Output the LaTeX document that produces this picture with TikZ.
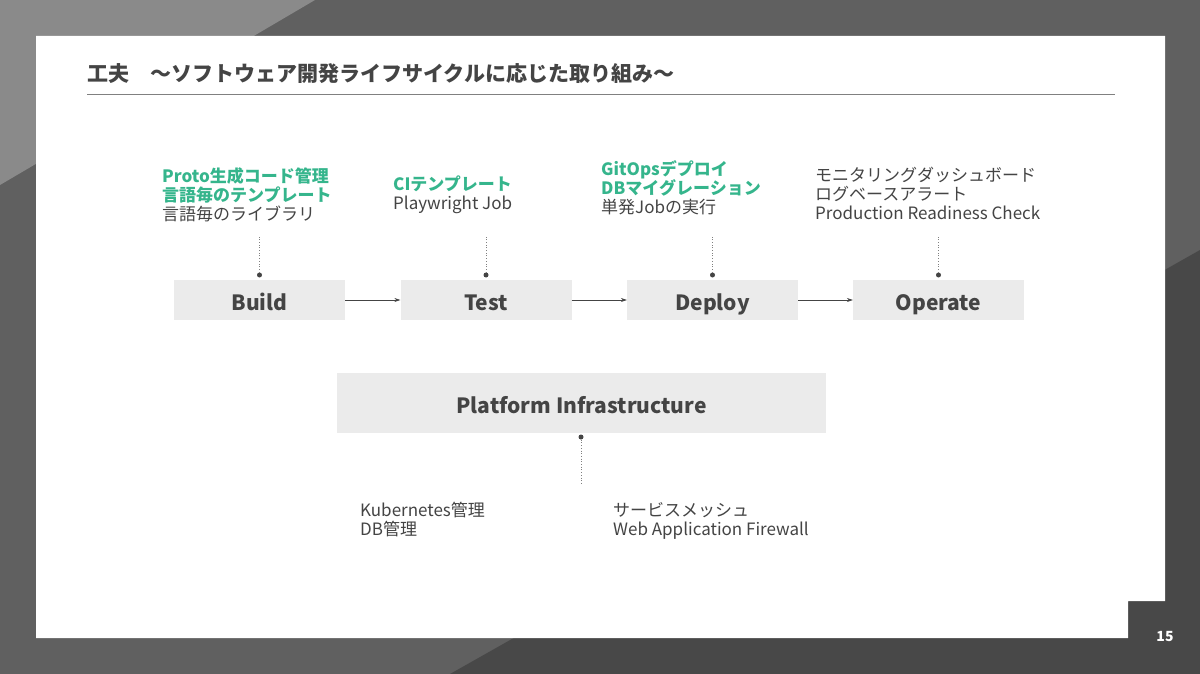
\documentclass[tikz,border=0pt]{standalone}
\usepackage{fontspec}
\setmainfont{Noto Sans CJK JP}
\usetikzlibrary{positioning,arrows.meta}
\definecolor{bgmid}{HTML}{606060}
\definecolor{bglight}{HTML}{8A8A8A}
\definecolor{bgdark}{HTML}{484848}
\definecolor{boxgray}{HTML}{EBEBEB}
\definecolor{txtgray}{HTML}{444444}
\definecolor{accent}{HTML}{35B58C}
\tikzset{
  stage/.style={rectangle,fill=boxgray,text=txtgray,font={\bfseries\fontsize{21}{24}\selectfont},minimum width=171pt,minimum height=40pt,inner sep=0pt,text height=21pt,text depth=0pt},
  note/.style={align=left,anchor=north west,inner sep=0pt,text=txtgray,font={\fontsize{17}{19}\selectfont}},
  pin/.style={circle,fill=txtgray,minimum size=5pt,inner sep=0pt},
  flow/.style={-{Stealth[length=6pt,width=4pt]},draw=txtgray,line width=0.6pt},
  lead/.style={dotted,draw=gray,line width=0.7pt}
}
\begin{document}
\begin{tikzpicture}[x=1pt,y=-1pt]
    \useasboundingbox (0,0) rectangle (1200,674);
    % 背景
    \fill[bgmid] (0,0) rectangle (1200,674);
    \fill[bglight] (0,0) -- (315,0) -- (0,185) -- cycle;
    \fill[bgdark] (1200,250) -- (1200,674) -- (450,674) -- cycle;
    \fill[white] (36,36) -- (1165,36) -- (1165,601) -- (1128,601) -- (1128,638) -- (36,638) -- cycle;
    \node[text=white,font={\bfseries\fontsize{14}{16}\selectfont}] (page) at (1165,637) {15};

    % タイトル
    \node[anchor=west,inner sep=0pt,text=txtgray,font={\bfseries\fontsize{21}{24}\selectfont}] (title) at (87,74) {工夫\quad～ソフトウェア開発ライフサイクルに応じた取り組み～};
    \draw[gray,line width=0.8pt] (87,94) -- (1115,94);

    % ステージ
    \foreach \n/\x/\name in {b/259.5/Build,t/486/Test,d/712.5/Deploy,o/938.5/Operate}{
        \node[stage] (\n) at (\x,300) {\name};
        \node[pin] (\n p) at (\x,275) {};
        \coordinate (\n q) at (\x,235);
        \draw[lead] (\n p) -- (\n q);
    }
    \draw[flow] (b) -- (t);
    \draw[flow] (t) -- (d);
    \draw[flow] (d) -- (o);

    \node[stage,minimum width=489pt,minimum height=60pt] (pf) at (581.5,403) {Platform Infrastructure};
    \node[pin] (pfp) at (581,437) {};
    \coordinate (pfq) at (581,483);
    \draw[lead] (pfp) -- (pfq);

    % 注記
    \node[note] (nb) at (162,167) {\textcolor{accent}{\bfseries Proto生成コード管理}\\\textcolor{accent}{\bfseries 言語毎のテンプレート}\\言語毎のライブラリ};
    \node[note] (nt) at (393,176) {\textcolor{accent}{\bfseries CIテンプレート}\\Playwright Job};
    \node[note] (nd) at (601,160) {\textcolor{accent}{\bfseries GitOpsデプロイ}\\\textcolor{accent}{\bfseries DBマイグレーション}\\単発Jobの実行};
    \node[note] (no) at (815,167) {モニタリングダッシュボード\\ログベースアラート\\Production Readiness Check};
    \node[note] (nk) at (360,502) {Kubernetes管理\\DB管理};
    \node[note] (ns) at (613,502) {サービスメッシュ\\Web Application Firewall};
\end{tikzpicture}
\end{document}
